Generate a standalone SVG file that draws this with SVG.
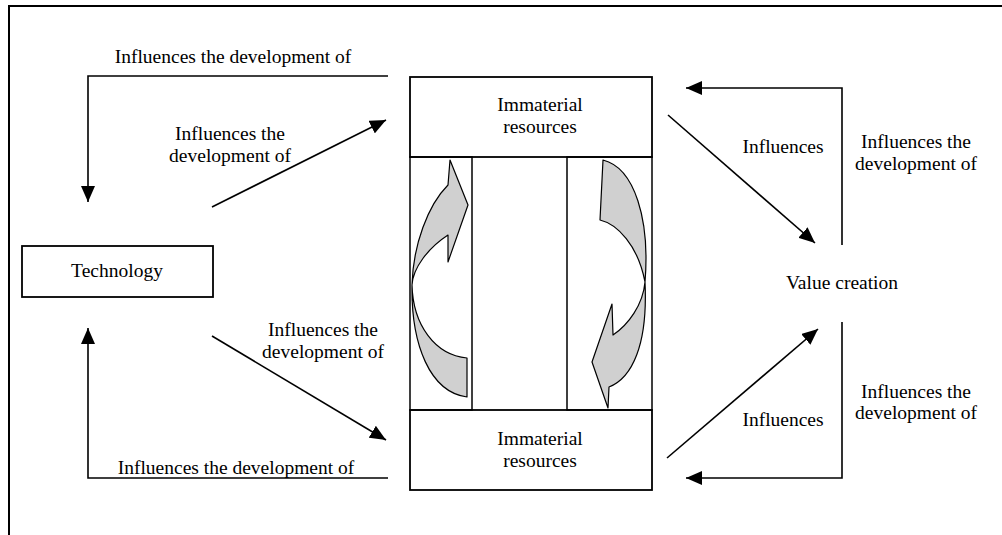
<svg xmlns="http://www.w3.org/2000/svg" width="1002" height="535" viewBox="0 0 1002 535">
<style>
text{font-family:"Liberation Serif","Times New Roman",serif;font-size:19.5px;fill:#000;text-anchor:middle}
.box{fill:#fff;stroke:#000;stroke-width:1.8}
.col{fill:none;stroke:#000;stroke-width:1.5}
.ln{fill:none;stroke:#000;stroke-width:1.6}
.curv{fill:#d0d0d0;stroke:#000;stroke-width:1.2;stroke-linejoin:round}
</style>
<defs>
<marker id="ahb" viewBox="0 0 10 10" refX="10" refY="5" markerWidth="16" markerHeight="14" markerUnits="userSpaceOnUse" orient="auto" preserveAspectRatio="none">
<path d="M0,0 L10,5 L0,10 Z" fill="#000"/>
</marker>
</defs>
<g id="frame">
<path d="M9,535 L9,6 L1002,6" fill="none" stroke="#000" stroke-width="2"/>
</g>
<g id="connectors">
<path class="ln" d="M388,76 L88,76 L88,202" marker-end="url(#ahb)"/>
<path class="ln" d="M212,207 L386,120" marker-end="url(#ahb)"/>
<path class="ln" d="M388,478 L88,478 L88,328" marker-end="url(#ahb)"/>
<path class="ln" d="M212,336 L386,440" marker-end="url(#ahb)"/>
<path class="ln" d="M668,115 L815,243" marker-end="url(#ahb)"/>
<path class="ln" d="M842,245 L842,88 L686,88" marker-end="url(#ahb)"/>
<path class="ln" d="M667,458 L818,329" marker-end="url(#ahb)"/>
<path class="ln" d="M842,322 L842,478 L686,478" marker-end="url(#ahb)"/>
</g>
<g id="labels">
<text x="233" y="63">Influences the development of</text>
<text x="230" y="140">Influences the</text>
<text x="230" y="162">development of</text>
<text x="323" y="336">Influences the</text>
<text x="323" y="358">development of</text>
<text x="236" y="474">Influences the development of</text>
<text x="783" y="153">Influences</text>
<text x="783" y="426">Influences</text>
<text x="916" y="148">Influences the</text>
<text x="916" y="170">development of</text>
<text x="916" y="398">Influences the</text>
<text x="916" y="419">development of</text>
</g>
<g id="technology">
<rect class="box" x="22" y="246" width="191" height="51"/>
<text x="117" y="277">Technology</text>
</g>
<g id="value-creation">
<text x="842" y="289">Value creation</text>
</g>
<g id="immaterial-top">
<rect class="box" x="410" y="77" width="242" height="80"/>
<text x="540" y="111">Immaterial</text>
<text x="540" y="133">resources</text>
</g>
<g id="immaterial-bottom">
<rect class="box" x="410" y="410" width="242" height="80"/>
<text x="540" y="445">Immaterial</text>
<text x="540" y="467">resources</text>
</g>
<g id="cycle-left">
<rect class="col" x="410" y="157" width="62" height="253"/>
<path class="curv" d="M448,185 L450,160 L468,205 L448,262 L448,235 C428,248 413,268 412,285 C413,325 435,355 467,358 L467,397 C430,392 411,345 412,285 C413,245 428,205 448,185 Z"/>
</g>
<g id="cycle-right">
<rect class="col" x="567" y="157" width="85" height="253"/>
<path class="curv" d="M603,160 L600,220 C617,224 638,245 645,282 C643,305 628,325 613,335 L612,304 L592,362 L608,408 L609,387 C632,378 648,345 645,282 C650,220 635,168 603,160 Z"/>
</g>
</svg>
